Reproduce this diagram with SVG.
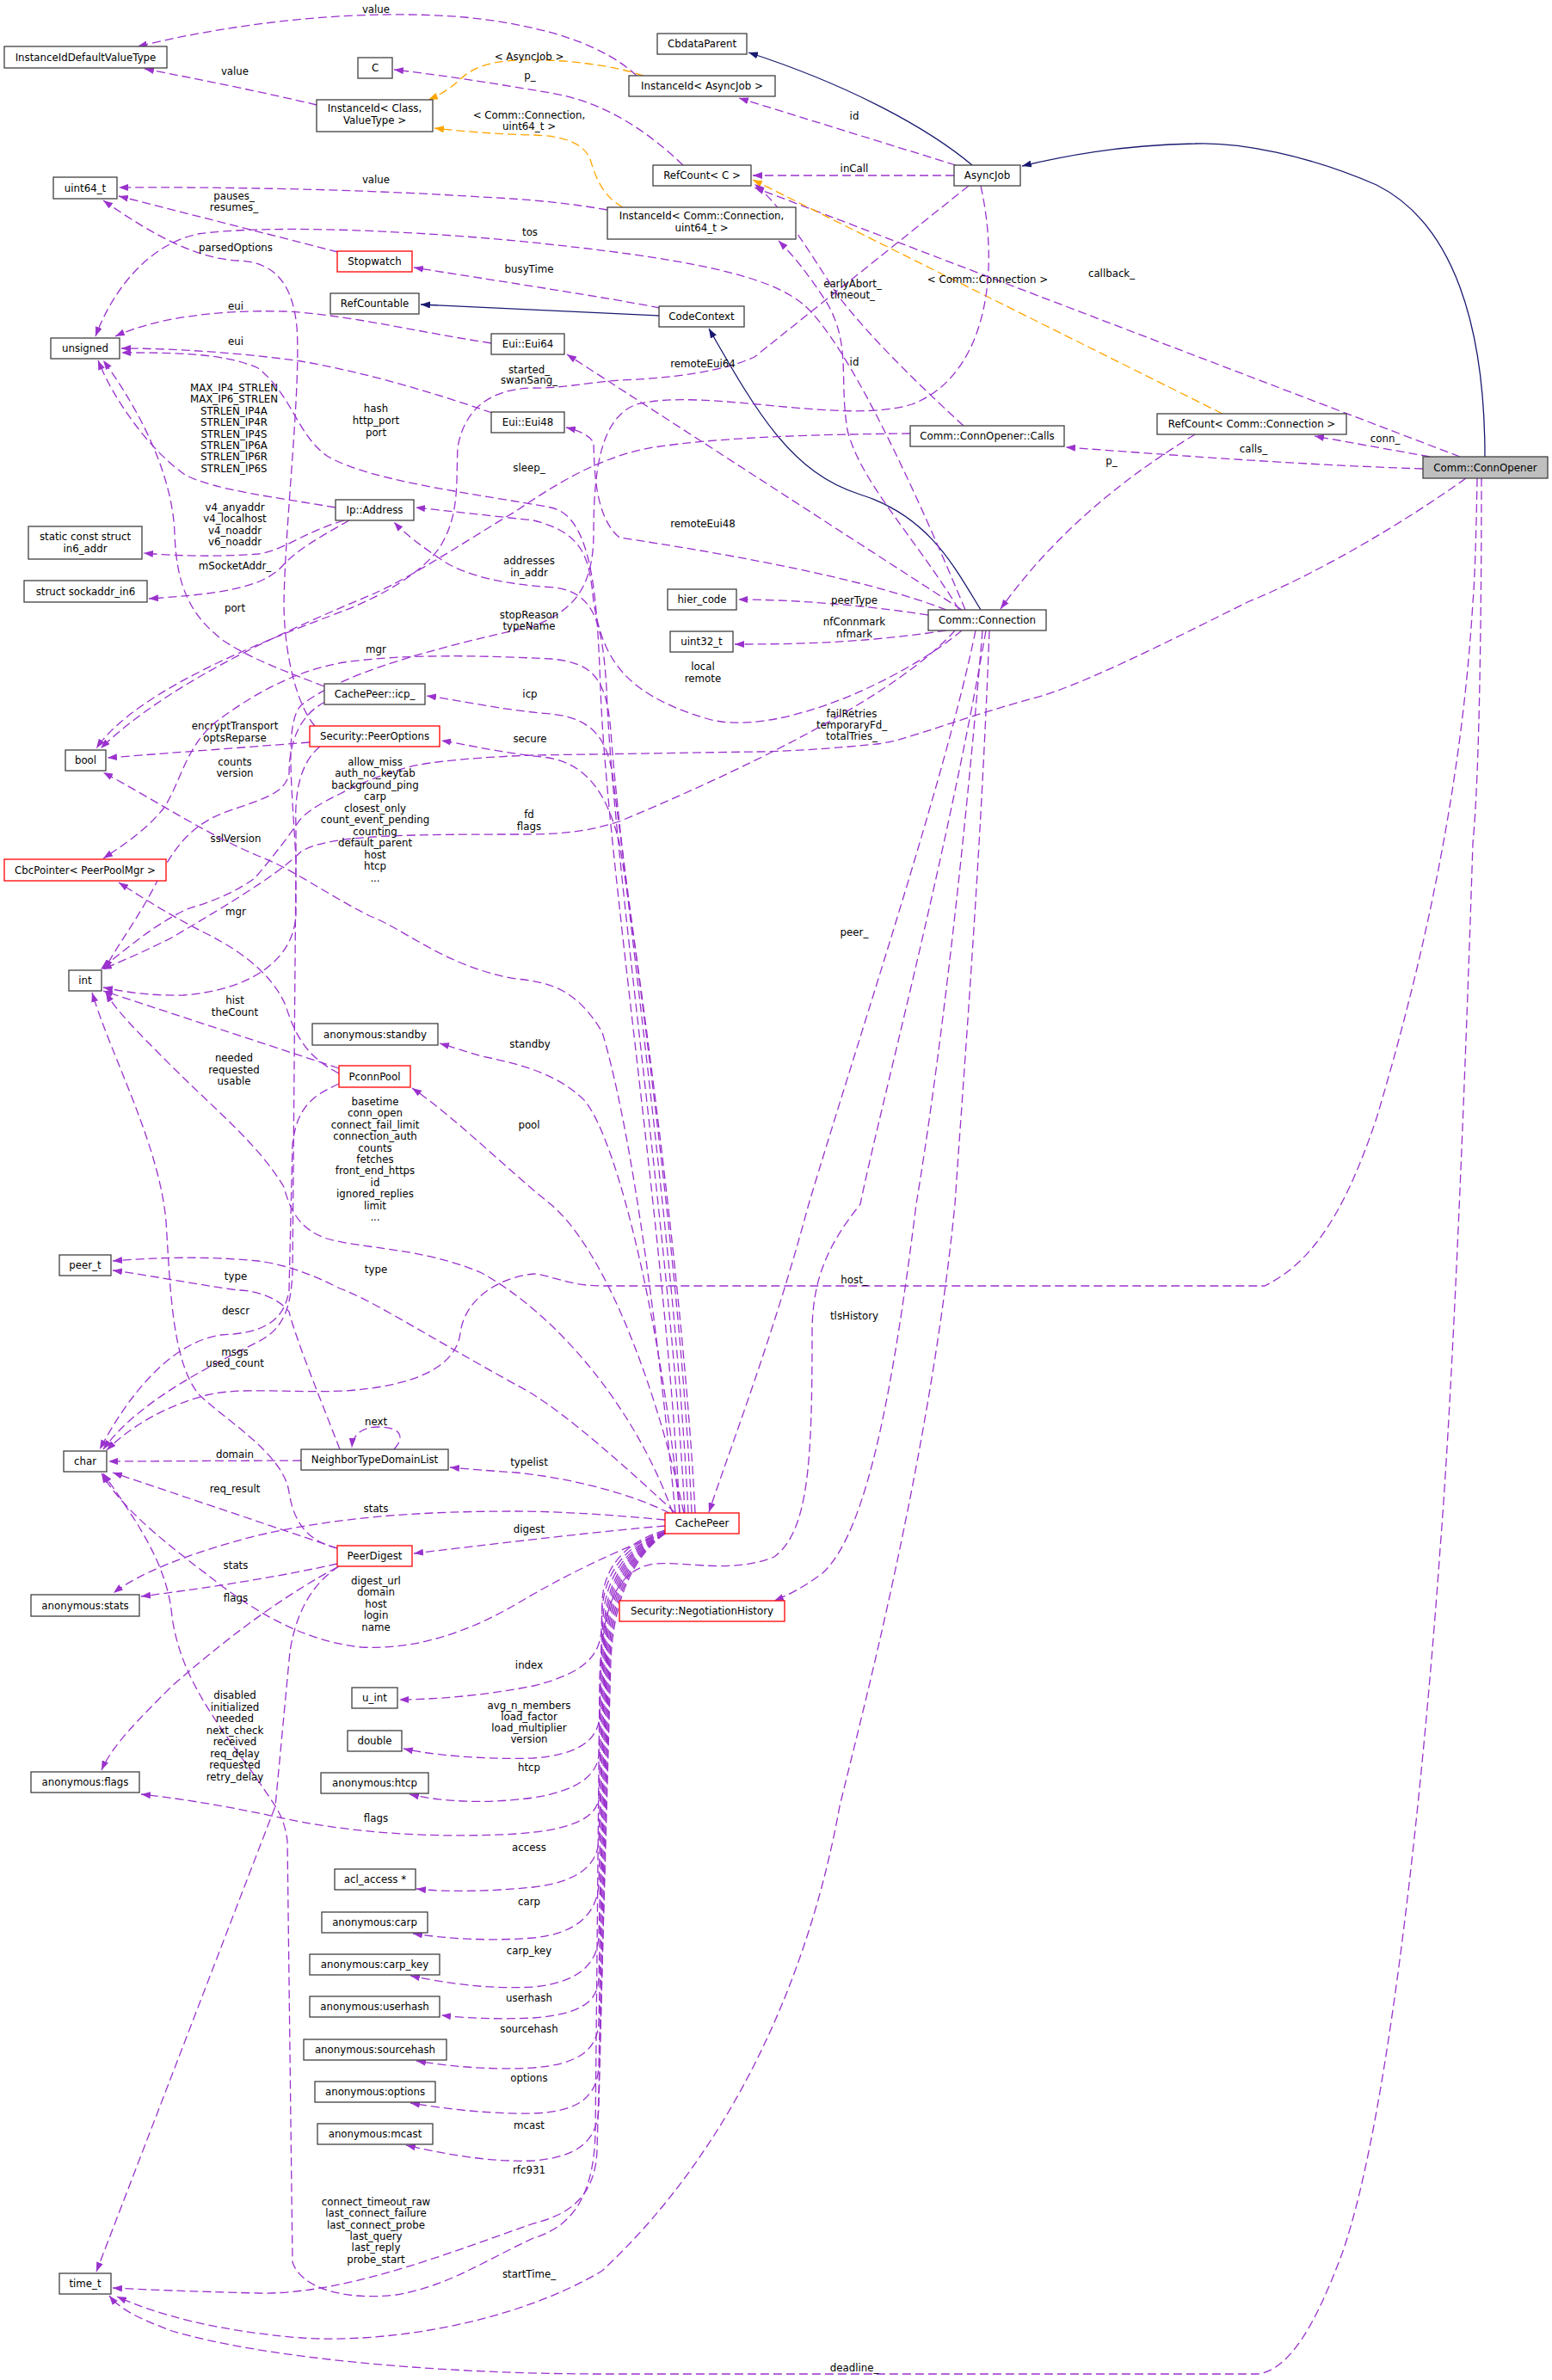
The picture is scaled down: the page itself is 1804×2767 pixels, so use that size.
<svg xmlns="http://www.w3.org/2000/svg" width="1804" height="2767" viewBox="0 0 1804 2767">
<style>
.nd rect{fill:#fff;stroke:#404040;stroke-width:1.3}
.nd.red rect{stroke:#ff0000}
.nd.cur rect{fill:#bfbfbf}
text{font-family:"DejaVu Sans","Liberation Sans",sans-serif;font-size:11.8px;fill:#000;text-anchor:middle}
.p{fill:none;stroke:#9a32cd;stroke-width:1.3;stroke-dasharray:10,5;marker-end:url(#ap)}
.o{fill:none;stroke:#ffa500;stroke-width:1.3;stroke-dasharray:10,5;marker-end:url(#ao)}
.s{fill:none;stroke:#191970;stroke-width:1.3;marker-end:url(#as)}
</style>
<defs>
<marker id="ap" viewBox="0 0 11 8" refX="11" refY="4" markerWidth="11" markerHeight="8" orient="auto" markerUnits="userSpaceOnUse"><path d="M0,0 L11,4 L0,8 z" fill="#9a32cd"/></marker>
<marker id="ao" viewBox="0 0 11 8" refX="11" refY="4" markerWidth="11" markerHeight="8" orient="auto" markerUnits="userSpaceOnUse"><path d="M0,0 L11,4 L0,8 z" fill="#ffa500"/></marker>
<marker id="as" viewBox="0 0 11 8" refX="11" refY="4" markerWidth="11" markerHeight="8" orient="auto" markerUnits="userSpaceOnUse"><path d="M0,0 L11,4 L0,8 z" fill="#191970"/></marker>
</defs>
<rect x="0" y="0" width="1804" height="2767" fill="#fff"/>

<g id="connectors">
<path class="p" d="M740,88 C705,55 640,30 540,20 C420,10 280,25 160,54"/>
<text x="437" y="14.7">value</text>
<path class="p" d="M368,122 C310,108 230,92 168,80"/>
<text x="273" y="87">value</text>
<path class="o" d="M748,88 C710,75 650,68 600,70 C565,72 548,80 535,92 C525,102 512,110 498,116"/>
<text x="615" y="69.6">&lt; AsyncJob &gt;</text>
<path class="p" d="M794,192 C750,150 700,118 640,108 C580,98 520,88 458,81"/>
<text x="616" y="92">p_</text>
<path class="o" d="M724,241 C700,228 692,205 686,185 C678,166 655,158 620,157 C580,156 540,153 505,149"/>
<text x="615" y="137.5">&lt; Comm::Connection,<tspan x="615" dy="13">uint64_t &gt;</tspan></text>
<path class="p" d="M1111,192 L859,114"/>
<text x="993" y="139">id</text>
<path class="s" d="M1130,192 C1080,150 990,100 870,61"/>
<path class="s" d="M1726,531 C1726,380 1690,260 1600,215 C1520,180 1440,165 1389,167 C1320,168 1250,178 1188,193"/>
<path class="p" d="M1109,204 L875,204"/>
<text x="993" y="199.5">inCall</text>
<path class="p" d="M1697,531 L877,218"/>
<text x="1292" y="322">callback_</text>
<path class="o" d="M1421,481 L875,209"/>
<text x="1148" y="329.4">&lt; Comm::Connection &gt;</text>
<path class="p" d="M706,244 C660,236 620,232 560,229 C450,222 300,217 138,218"/>
<text x="437" y="213">value</text>
<path class="p" d="M393,293 L138,228"/>
<text x="272" y="232">pauses_<tspan x="272" dy="13.4">resumes_</tspan></text>
<path class="p" d="M366,844 C345,820 330,760 330,700 C332,600 350,450 345,380 C340,330 320,305 277,303 C230,301 180,275 120,233"/>
<text x="274" y="291.5">parsedOptions</text>
<path class="p" d="M767,358 C700,345 600,330 481,311"/>
<text x="615" y="317">busyTime</text>
<path class="s" d="M766,367 L489,354"/>
<path class="s" d="M1140,709 C1110,660 1080,600 1000,575 C920,550 880,480 824,382"/>
<path class="p" d="M1122,709 C1060,560 985,400 935,355 C895,320 800,300 600,280 C450,266 300,262 230,272 C170,285 130,340 111,391"/>
<text x="616" y="273.6">tos</text>
<path class="p" d="M571,399 C480,385 400,365 330,362 C250,360 180,370 134,391"/>
<text x="274" y="360">eui</text>
<path class="p" d="M572,480 C500,455 420,432 350,420 C280,410 200,405 141,405"/>
<text x="274" y="401">eui</text>
<path class="p" d="M390,590 C320,578 250,570 215,552 C170,520 130,460 114,419"/>
<text x="272" y="455">MAX_IP4_STRLEN<tspan x="272" dy="13.4">MAX_IP6_STRLEN</tspan><tspan x="272" dy="13.4">STRLEN_IP4A</tspan><tspan x="272" dy="13.4">STRLEN_IP4R</tspan><tspan x="272" dy="13.4">STRLEN_IP4S</tspan><tspan x="272" dy="13.4">STRLEN_IP6A</tspan><tspan x="272" dy="13.4">STRLEN_IP6R</tspan><tspan x="272" dy="13.4">STRLEN_IP6S</tspan></text>
<path class="p" d="M790,1759 C775,1450 705,1000 698,800 C694,700 690,600 640,590 C560,575 430,560 380,530 C345,505 340,460 300,428 C260,410 200,410 141,410"/>
<text x="437" y="479.4">hash<tspan x="437" dy="13.8">http_port</tspan><tspan x="437" dy="13.8">port</tspan></text>
<path class="p" d="M400,605 C350,620 330,640 300,644 C250,648 200,646 167,643"/>
<text x="273" y="594">v4_anyaddr<tspan x="273" dy="13.3">v4_localhost</tspan><tspan x="273" dy="13.3">v4_noaddr</tspan><tspan x="273" dy="13.3">v6_noaddr</tspan></text>
<path class="p" d="M406,605 C370,625 345,640 330,656 C310,680 270,690 173,696"/>
<text x="273" y="661.6">mSocketAddr_</text>
<path class="p" d="M796,1759 C780,1450 712,1000 705,800 C700,720 690,690 645,683 C590,680 540,670 512,650 C490,635 470,620 458,607"/>
<text x="615" y="656">addresses<tspan x="615" dy="14">in_addr</tspan></text>
<path class="p" d="M1118,733 C1050,790 900,860 820,835 C720,805 700,760 690,700 C685,650 680,620 620,605 L483,590"/>
<text x="817" y="779.4">local<tspan x="817" dy="14">remote</tspan></text>
<path class="p" d="M1126,216 L877,415 C840,432 780,440 720,442 C680,445 650,452 620,451 C570,452 540,475 532,520 C530,560 535,600 510,638 C490,665 450,690 400,710 C320,740 160,800 112,870"/>
<text x="615" y="433.5">started_<tspan x="615" dy="12.5">swanSang_</tspan></text>
<path class="p" d="M1058,504 C950,505 840,508 760,520 C700,530 650,560 600,594 C540,630 480,670 435,690 C340,730 200,790 117,870"/>
<text x="615" y="548">sleep_</text>
<path class="p" d="M1115,709 C1060,620 1000,560 985,500 C975,440 990,400 960,350 C940,320 925,300 905,280"/>
<text x="993" y="425">id</text>
<path class="p" d="M1120,495 C1060,440 1010,390 975,345 C945,300 910,240 877,214"/>
<text x="991" y="333.5">earlyAbort_<tspan x="991" dy="13">timeout_</tspan></text>
<path class="p" d="M1118,709 L659,412"/>
<text x="817" y="427">remoteEui64</text>
<path class="p" d="M1100,709 C1000,670 820,640 720,625 C690,600 691,540 690,515 C685,505 670,500 658,497"/>
<text x="817" y="613">remoteEui48</text>
<path class="p" d="M1079,715 C1000,703 920,697 858,697"/>
<text x="993" y="702">peerType</text>
<path class="p" d="M1100,733 C1000,748 920,749 854,749"/>
<text x="993" y="727">nfConnmark<tspan x="993" dy="14">nfmark</tspan></text>
<path class="p" d="M1140,216 C1165,330 1140,440 1060,470 C980,495 820,450 740,470 C700,485 690,540 690,620 C690,690 660,712 620,728 C520,750 400,780 350,820 C330,840 340,920 344,1000 L340,1480 C338,1520 330,1545 300,1560 C240,1590 160,1630 120,1685"/>
<text x="615" y="718.7">stopReason<tspan x="615" dy="13">typeName</tspan></text>
<path class="p" d="M1134,733 C1100,900 1000,1200 940,1400 C900,1550 850,1680 824,1758"/>
<text x="993" y="1088">peer_</text>
<path class="p" d="M1142,733 C1120,1000 1090,1250 1065,1400 C1040,1600 1010,1780 956,1829 C935,1845 915,1855 900,1861"/>
<text x="993" y="1534">tlsHistory</text>
<path class="p" d="M1150,733 C1140,1000 1120,1250 1110,1400 C1080,1700 1000,2000 976,2100 C940,2300 850,2500 700,2640 C600,2700 450,2725 350,2718 C250,2710 180,2690 136,2670"/>
<text x="615" y="2647.6">startTime_</text>
<path class="p" d="M1146,733 C1100,1000 1020,1300 1000,1400 C960,1450 944,1490 944,1550 C944,1700 940,1780 900,1810 C850,1830 800,1815 760,1818 C720,1825 700,1860 697,1950 L692,2480 C690,2560 660,2590 620,2602 C560,2630 520,2658 460,2668 C400,2675 350,2660 340,2630 L334,2140 C330,2110 320,2100 300,2070 C250,2000 210,1950 200,1880 C195,1820 160,1770 120,1713"/>
<text x="615" y="2526.5">rfc931</text>
<path class="p" d="M1389,505 C1340,535 1240,600 1163,708"/>
<text x="1292" y="539.7">p_</text>
<path class="p" d="M1662,531 L1528,507"/>
<text x="1610" y="514">conn_</text>
<path class="p" d="M1654,545 C1500,540 1350,528 1239,520"/>
<text x="1457" y="526">calls_</text>
<path class="p" d="M1704,556 C1600,630 1500,680 1450,700 C1350,750 1250,800 1200,812 C1100,840 1050,862 1019,865 C950,872 900,874 877,874 L620,878 C560,880 500,885 474,892 C430,905 410,915 395,923 C370,935 355,945 348,954 C330,980 310,1005 296,1021 C270,1040 240,1050 217,1057 C180,1075 150,1100 117,1127"/>
<text x="990" y="833.5">failRetries<tspan x="990" dy="13">temporaryFd_</tspan><tspan x="990" dy="13">totalTries_</tspan></text>
<path class="p" d="M1717,556 C1716,620 1714,680 1712,700 C1700,900 1660,1100 1600,1300 C1560,1420 1520,1470 1470,1495 L700,1495 C660,1495 640,1482 620,1481 C580,1485 540,1510 535,1550 C530,1590 480,1612 400,1617 C340,1620 280,1612 240,1622 C190,1635 150,1660 124,1686"/>
<text x="993" y="1491.5">host_</text>
<path class="p" d="M1722,556 C1722,700 1720,900 1712,980 C1705,1200 1690,1600 1674,1800 C1660,2000 1620,2450 1560,2620 C1530,2700 1500,2755 1462,2760 L700,2760 C500,2760 300,2740 200,2710 C160,2695 140,2685 127,2669"/>
<text x="993" y="2757">deadline_</text>
<path class="p" d="M360,863 L125,881"/>
<text x="273" y="847.7">encryptTransport<tspan x="273" dy="13.8">optsReparse</tspan></text>
<path class="p" d="M372,868 C350,885 342,920 344,960 L344,1060 C344,1110 300,1150 213,1157 C170,1158 140,1152 120,1148"/>
<text x="274" y="979">sslVersion</text>
<path class="p" d="M377,798 C330,780 290,765 260,745 C220,715 205,680 203,620 C200,540 150,460 120,419"/>
<text x="273" y="710.7">port</text>
<path class="p" d="M378,816 C350,830 336,860 336,900 C330,925 300,930 260,945 C220,960 200,990 185,1020 C160,1070 135,1100 122,1127"/>
<text x="273" y="889.7">counts<tspan x="273" dy="13">version</tspan></text>
<path class="p" d="M1110,733 C1050,800 900,880 720,955 C680,968 650,970 600,970 C450,970 380,972 350,990 C320,1020 250,1060 200,1090 C160,1110 135,1120 119,1127"/>
<text x="615" y="951">fd<tspan x="615" dy="14">flags</tspan></text>
<path class="p" d="M785,1759 C760,1500 730,1300 700,1200 C670,1150 640,1142 600,1138 C520,1125 470,1080 430,1065 C380,1040 340,1010 300,995 C240,970 180,930 120,898"/>
<text x="436" y="889.7">allow_miss<tspan x="436" dy="13.5">auth_no_keytab</tspan><tspan x="436" dy="13.5">background_ping</tspan><tspan x="436" dy="13.5">carp</tspan><tspan x="436" dy="13.5">closest_only</tspan><tspan x="436" dy="13.5">count_event_pending</tspan><tspan x="436" dy="13.5">counting</tspan><tspan x="436" dy="13.5">default_parent</tspan><tspan x="436" dy="13.5">host</tspan><tspan x="436" dy="13.5">htcp</tspan><tspan x="436" dy="13.5">...</tspan></text>
<path class="p" d="M800,1759 C785,1450 720,1000 710,850 C705,790 690,770 640,766 C560,762 470,760 400,770 C340,780 290,810 250,840 C215,870 210,910 190,940 C170,965 140,985 120,998"/>
<text x="437" y="758.5">mgr</text>
<path class="p" d="M804,1759 C790,1450 730,1050 712,900 C705,860 690,835 640,830 C580,825 540,815 496,809"/>
<text x="616" y="810.5">icp</text>
<path class="p" d="M808,1759 C795,1500 740,1100 720,980 C705,920 680,885 630,880 C580,875 540,865 513,861"/>
<text x="616" y="863.4">secure</text>
<path class="p" d="M782,1759 C740,1640 650,1530 560,1480 C490,1450 420,1452 380,1440 C350,1430 338,1410 330,1380 C300,1330 250,1290 200,1240 C160,1200 135,1175 123,1154"/>
<text x="436" y="1285">basetime<tspan x="436" dy="13.4">conn_open</tspan><tspan x="436" dy="13.4">connect_fail_limit</tspan><tspan x="436" dy="13.4">connection_auth</tspan><tspan x="436" dy="13.4">counts</tspan><tspan x="436" dy="13.4">fetches</tspan><tspan x="436" dy="13.4">front_end_https</tspan><tspan x="436" dy="13.4">id</tspan><tspan x="436" dy="13.4">ignored_replies</tspan><tspan x="436" dy="13.4">limit</tspan><tspan x="436" dy="13.4">...</tspan></text>
<path class="p" d="M790,1759 C770,1550 720,1330 680,1280 C650,1250 610,1238 560,1228 C540,1222 525,1217 511,1213"/>
<text x="616" y="1218">standby</text>
<path class="p" d="M795,1759 C760,1600 700,1450 640,1400 C590,1360 530,1300 479,1265"/>
<text x="615" y="1312">pool</text>
<path class="p" d="M785,1759 C700,1680 640,1630 600,1610 C500,1555 430,1510 395,1498 C360,1480 330,1470 300,1466 C240,1460 180,1462 131,1466"/>
<text x="437" y="1480">type</text>
<path class="p" d="M778,1759 C730,1735 660,1718 600,1712 C570,1710 545,1708 523,1706"/>
<text x="615" y="1704">typelist</text>
<path class="p" d="M394,1242 L120,1152"/>
<text x="273" y="1167">hist<tspan x="273" dy="14">theCount</tspan></text>
<path class="p" d="M394,1248 C360,1230 345,1210 332,1169 C320,1140 290,1110 237,1084 C190,1060 160,1040 138,1026"/>
<text x="274" y="1063.8">mgr</text>
<path class="p" d="M394,1260 C360,1275 345,1290 340,1330 L336,1500 C330,1540 300,1550 257,1552 C200,1560 150,1620 116,1685"/>
<text x="274" y="1527.6">descr</text>
<text x="273" y="1576">msgs<tspan x="273" dy="13.4">used_count</tspan></text>
<path class="p" d="M392,1800 C350,1790 340,1760 336,1735 C330,1690 260,1650 230,1620 C200,1580 198,1500 193,1420 C185,1330 130,1230 107,1154"/>
<text x="272" y="1234">needed<tspan x="272" dy="13.5">requested</tspan><tspan x="272" dy="13.5">usable</tspan></text>
<path class="p" d="M395,1685 C370,1620 345,1560 336,1525 C320,1505 290,1500 277,1500 C220,1492 170,1482 131,1477"/>
<text x="274" y="1487.5">type</text>
<path class="p" d="M458,1685 C470,1672 468,1659 440,1659 C420,1659 410,1668 409,1683"/>
<text x="437" y="1656.7">next</text>
<path class="p" d="M350,1698 L126,1699"/>
<text x="273" y="1694.6">domain</text>
<path class="p" d="M392,1800 L131,1712"/>
<text x="273" y="1734.8">req_result</text>
<path class="p" d="M773,1767 C700,1760 640,1757 600,1757 C500,1757 400,1762 300,1785 C220,1805 160,1830 132,1852"/>
<text x="437" y="1757.6">stats</text>
<path class="p" d="M773,1774 C700,1780 600,1792 481,1806"/>
<text x="615" y="1781.7">digest</text>
<path class="p" d="M774,1782 C720,1800 650,1835 600,1865 C540,1900 480,1918 420,1915 C350,1908 290,1870 240,1830 C180,1785 140,1750 118,1713"/>
<text x="437" y="1842">digest_url<tspan x="437" dy="13.4">domain</tspan><tspan x="437" dy="13.4">host</tspan><tspan x="437" dy="13.4">login</tspan><tspan x="437" dy="13.4">name</tspan></text>
<path class="p" d="M392,1818 C330,1832 250,1845 164,1856"/>
<text x="274" y="1823.6">stats</text>
<path class="p" d="M392,1822 C340,1850 280,1890 200,1960 C160,2000 130,2030 118,2058"/>
<text x="274" y="1861.6">flags</text>
<path class="p" d="M394,1821 C365,1840 345,1870 337,1920 L320,2100 L112,2641"/>
<text x="273" y="1975">disabled<tspan x="273" dy="13.5">initialized</tspan><tspan x="273" dy="13.5">needed</tspan><tspan x="273" dy="13.5">next_check</tspan><tspan x="273" dy="13.5">received</tspan><tspan x="273" dy="13.5">req_delay</tspan><tspan x="273" dy="13.5">requested</tspan><tspan x="273" dy="13.5">retry_delay</tspan></text>
<path class="p" d="M773,1779 C735,1790 703,1815 700,1860 L699,1895 C697,1925 680,1945 620,1960 C560,1972 500,1976 464,1976"/>
<text x="615" y="1939.5">index</text>
<path class="p" d="M773,1780 C736,1792 704,1820 700,1870 L697,1995 C695,2025 670,2040 620,2044 C560,2046 500,2040 469,2033"/>
<text x="615" y="1986.6">avg_n_members<tspan x="615" dy="13.2">load_factor</tspan><tspan x="615" dy="13.2">load_multiplier</tspan><tspan x="615" dy="13.2">version</tspan></text>
<path class="p" d="M773,1781 C737,1793 705,1825 701,1880 L696,2040 C694,2065 670,2082 620,2090 C560,2098 510,2094 476,2086"/>
<text x="615" y="2058.5">htcp</text>
<path class="p" d="M773,1781 C738,1794 706,1828 702,1890 L696,2090 C694,2115 660,2128 600,2132 C500,2138 400,2130 320,2112 C250,2097 200,2090 164,2086"/>
<text x="437" y="2117.6">flags</text>
<path class="p" d="M773,1782 C739,1795 707,1830 703,1895 L696,2140 C694,2170 670,2188 620,2194 C570,2199 520,2200 484,2196"/>
<text x="615" y="2151.6">access</text>
<path class="p" d="M773,1782 C740,1796 708,1832 704,1900 L696,2190 C694,2225 670,2248 620,2253 C570,2257 520,2254 480,2248"/>
<text x="615" y="2214.6">carp</text>
<path class="p" d="M773,1783 C741,1797 709,1834 705,1905 L696,2250 C695,2285 670,2305 620,2310 C570,2313 520,2306 477,2297"/>
<text x="615" y="2272">carp_key</text>
<path class="p" d="M773,1783 C742,1798 710,1836 706,1910 L696,2300 C695,2330 670,2342 620,2346 C570,2348 540,2346 513,2343"/>
<text x="615" y="2326.5">userhash</text>
<path class="p" d="M773,1783 C743,1799 711,1838 707,1915 L696,2350 C695,2385 670,2400 620,2404 C570,2407 520,2402 484,2396"/>
<text x="615" y="2362.6">sourcehash</text>
<path class="p" d="M773,1783 C744,1800 712,1840 708,1920 L696,2400 C695,2440 670,2455 620,2457 C570,2458 520,2452 477,2445"/>
<text x="615" y="2419.6">options</text>
<path class="p" d="M773,1783 C745,1801 713,1842 709,1925 L696,2450 C695,2490 670,2508 620,2512 C570,2514 520,2505 472,2494"/>
<text x="615" y="2474.5">mcast</text>
<path class="p" d="M773,1783 C746,1802 714,1844 710,1930 L694,2500 C692,2555 660,2575 620,2585 C520,2620 400,2668 300,2666 C220,2664 170,2662 131,2660"/>
<text x="437" y="2564">connect_timeout_raw<tspan x="437" dy="13.3">last_connect_failure</tspan><tspan x="437" dy="13.3">last_connect_probe</tspan><tspan x="437" dy="13.3">last_query</tspan><tspan x="437" dy="13.3">last_reply</tspan><tspan x="437" dy="13.3">probe_start</tspan></text>
</g>

<g id="node-InstanceIdDefaultValueType" class="nd"><rect x="5" y="54" width="189" height="25"/><text x="99.5" y="70.7">InstanceIdDefaultValueType</text></g>
<g id="node-C" class="nd"><rect x="416" y="67" width="40" height="24"/><text x="436" y="83.2">C</text></g>
<g id="node-InstanceIdClass" class="nd"><rect x="368" y="116" width="135" height="37"/><text x="435.5" y="130.3">InstanceId&lt; Class,<tspan x="435.5" dy="13.4">ValueType &gt;</tspan></text></g>
<g id="node-CbdataParent" class="nd"><rect x="764" y="39" width="104" height="24"/><text x="816" y="55.2">CbdataParent</text></g>
<g id="node-InstanceIdAsyncJob" class="nd"><rect x="731" y="88" width="170" height="24"/><text x="816" y="104.2">InstanceId&lt; AsyncJob &gt;</text></g>
<g id="node-RefCountC" class="nd"><rect x="759" y="192" width="114" height="24"/><text x="816" y="208.2">RefCount&lt; C &gt;</text></g>
<g id="node-AsyncJob" class="nd"><rect x="1109" y="192" width="77" height="24"/><text x="1147.5" y="208.2">AsyncJob</text></g>
<g id="node-InstanceIdConn" class="nd"><rect x="706" y="241" width="219" height="37"/><text x="815.5" y="255.3">InstanceId&lt; Comm::Connection,<tspan x="815.5" dy="13.4">uint64_t &gt;</tspan></text></g>
<g id="node-uint64_t" class="nd"><rect x="62" y="206" width="74" height="25"/><text x="99" y="222.7">uint64_t</text></g>
<g id="node-Stopwatch" class="nd red"><rect x="392" y="292" width="87" height="24"/><text x="435.5" y="308.2">Stopwatch</text></g>
<g id="node-RefCountable" class="nd"><rect x="384" y="341" width="103" height="24"/><text x="435.5" y="357.2">RefCountable</text></g>
<g id="node-CodeContext" class="nd"><rect x="766" y="356" width="99" height="24"/><text x="815.5" y="372.2">CodeContext</text></g>
<g id="node-unsigned" class="nd"><rect x="59" y="393" width="80" height="24"/><text x="99" y="409.2">unsigned</text></g>
<g id="node-Eui64" class="nd"><rect x="571" y="388" width="85" height="24"/><text x="613.5" y="404.2">Eui::Eui64</text></g>
<g id="node-Eui48" class="nd"><rect x="571" y="479" width="85" height="24"/><text x="613.5" y="495.2">Eui::Eui48</text></g>
<g id="node-Calls" class="nd"><rect x="1058" y="495" width="179" height="24"/><text x="1147.5" y="511.2">Comm::ConnOpener::Calls</text></g>
<g id="node-RefCountConn" class="nd"><rect x="1345" y="481" width="220" height="24"/><text x="1455" y="497.2">RefCount&lt; Comm::Connection &gt;</text></g>
<g id="node-ConnOpener" class="nd cur"><rect x="1654" y="531" width="145" height="25"/><text x="1726.5" y="547.7">Comm::ConnOpener</text></g>
<g id="node-in6_addr" class="nd"><rect x="33" y="612" width="132" height="38"/><text x="99" y="627.6">static const struct<tspan x="99" dy="13.9">in6_addr</tspan></text></g>
<g id="node-sockaddr_in6" class="nd"><rect x="28" y="675" width="143" height="25"/><text x="99.5" y="691.7">struct sockaddr_in6</text></g>
<g id="node-IpAddress" class="nd"><rect x="390" y="581" width="91" height="24"/><text x="435.5" y="597.2">Ip::Address</text></g>
<g id="node-hier_code" class="nd"><rect x="776" y="685" width="80" height="24"/><text x="816" y="701.2">hier_code</text></g>
<g id="node-uint32_t" class="nd"><rect x="779" y="734" width="73" height="24"/><text x="815.5" y="750.2">uint32_t</text></g>
<g id="node-Connection" class="nd"><rect x="1079" y="709" width="137" height="24"/><text x="1147.5" y="725.2">Comm::Connection</text></g>
<g id="node-bool" class="nd"><rect x="76" y="872" width="47" height="24"/><text x="99.5" y="888.2">bool</text></g>
<g id="node-icp" class="nd"><rect x="377" y="795" width="117" height="24"/><text x="435.5" y="811.2">CachePeer::icp_</text></g>
<g id="node-PeerOptions" class="nd red"><rect x="360" y="844" width="151" height="24"/><text x="435.5" y="860.2">Security::PeerOptions</text></g>
<g id="node-CbcPointer" class="nd red"><rect x="5" y="999" width="188" height="25"/><text x="99" y="1015.7">CbcPointer&lt; PeerPoolMgr &gt;</text></g>
<g id="node-int" class="nd"><rect x="80" y="1128" width="38" height="24"/><text x="99" y="1144.2">int</text></g>
<g id="node-standby" class="nd"><rect x="363" y="1190" width="146" height="25"/><text x="436" y="1206.7">anonymous:standby</text></g>
<g id="node-PconnPool" class="nd red"><rect x="394" y="1239" width="83" height="25"/><text x="435.5" y="1255.7">PconnPool</text></g>
<g id="node-peer_t" class="nd"><rect x="69" y="1459" width="60" height="24"/><text x="99" y="1475.2">peer_t</text></g>
<g id="node-char" class="nd"><rect x="74" y="1687" width="50" height="24"/><text x="99" y="1703.2">char</text></g>
<g id="node-NeighborTypeDomainList" class="nd"><rect x="350" y="1685" width="171" height="24"/><text x="435.5" y="1701.2">NeighborTypeDomainList</text></g>
<g id="node-CachePeer" class="nd red"><rect x="773" y="1759" width="86" height="24"/><text x="816" y="1775.2">CachePeer</text></g>
<g id="node-PeerDigest" class="nd red"><rect x="392" y="1797" width="87" height="24"/><text x="435.5" y="1813.2">PeerDigest</text></g>
<g id="node-stats" class="nd"><rect x="36" y="1854" width="126" height="25"/><text x="99" y="1870.7">anonymous:stats</text></g>
<g id="node-NegotiationHistory" class="nd red"><rect x="720" y="1861" width="192" height="24"/><text x="816" y="1877.2">Security::NegotiationHistory</text></g>
<g id="node-u_int" class="nd"><rect x="409" y="1962" width="53" height="24"/><text x="435.5" y="1978.2">u_int</text></g>
<g id="node-double" class="nd"><rect x="404" y="2012" width="63" height="24"/><text x="435.5" y="2028.2">double</text></g>
<g id="node-flags" class="nd"><rect x="36" y="2060" width="126" height="24"/><text x="99" y="2076.2">anonymous:flags</text></g>
<g id="node-htcp" class="nd"><rect x="373" y="2061" width="125" height="24"/><text x="435.5" y="2077.2">anonymous:htcp</text></g>
<g id="node-acl_access" class="nd"><rect x="389" y="2173" width="94" height="24"/><text x="436" y="2189.2">acl_access *</text></g>
<g id="node-carp" class="nd"><rect x="374" y="2223" width="123" height="24"/><text x="435.5" y="2239.2">anonymous:carp</text></g>
<g id="node-carp_key" class="nd"><rect x="360" y="2272" width="151" height="24"/><text x="435.5" y="2288.2">anonymous:carp_key</text></g>
<g id="node-userhash" class="nd"><rect x="360" y="2321" width="151" height="24"/><text x="435.5" y="2337.2">anonymous:userhash</text></g>
<g id="node-sourcehash" class="nd"><rect x="353" y="2371" width="166" height="24"/><text x="436" y="2387.2">anonymous:sourcehash</text></g>
<g id="node-options" class="nd"><rect x="366" y="2420" width="140" height="24"/><text x="436" y="2436.2">anonymous:options</text></g>
<g id="node-mcast" class="nd"><rect x="369" y="2469" width="134" height="24"/><text x="436" y="2485.2">anonymous:mcast</text></g>
<g id="node-time_t" class="nd"><rect x="69" y="2643" width="60" height="24"/><text x="99" y="2659.2">time_t</text></g>
</svg>
